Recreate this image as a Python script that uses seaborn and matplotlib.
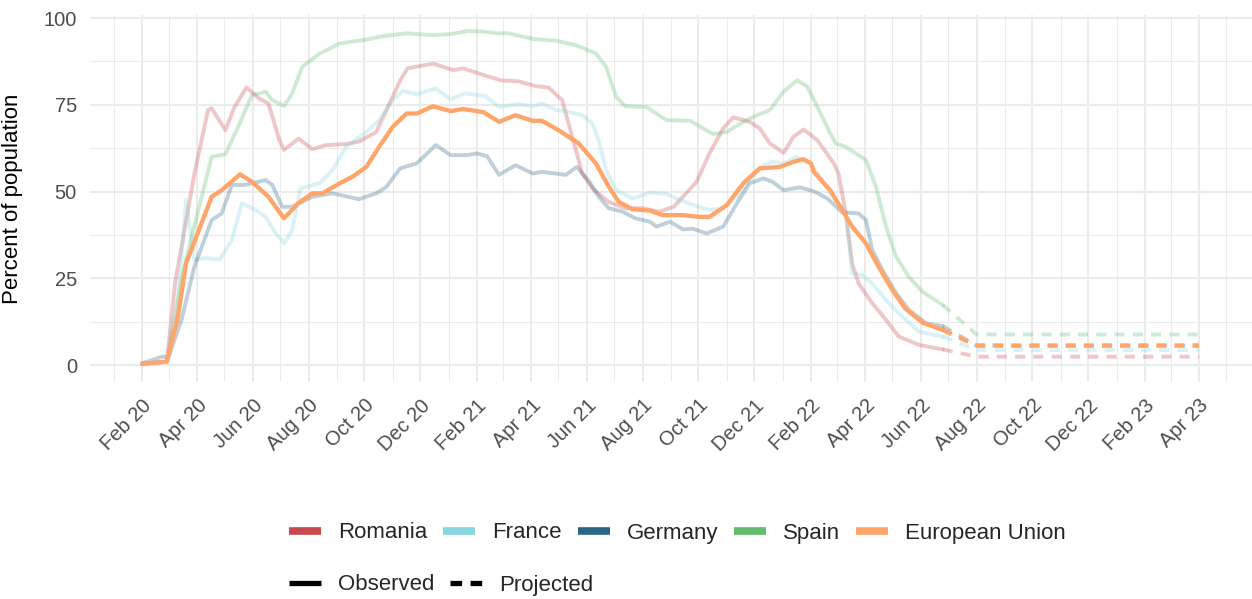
import pandas as pd
import numpy as np
import seaborn as sns
import matplotlib.pyplot as plt
import matplotlib.dates as mdates
from matplotlib.lines import Line2D

# Series (percent of population)
countries = ['Romania', 'France', 'Germany', 'Spain', 'European Union']
colors = ['#C9474F', '#86D6E0', '#2B6585', '#63BC6E', '#FFA56A']

romania_dates = ['2020-02-01', '2020-02-28', '2020-03-08', '2020-03-29', '2020-04-13', '2020-04-17',
                 '2020-05-02', '2020-05-12', '2020-05-25', '2020-06-08', '2020-06-18', '2020-06-30',
                 '2020-07-05', '2020-07-21', '2020-08-05', '2020-08-20', '2020-09-11', '2020-09-25',
                 '2020-10-14', '2020-10-25', '2020-11-09', '2020-11-17', '2020-12-15', '2021-01-06',
                 '2021-01-17', '2021-02-08', '2021-02-28', '2021-03-18', '2021-04-06', '2021-04-20',
                 '2021-05-05', '2021-05-12', '2021-05-20', '2021-05-27', '2021-06-07', '2021-06-25',
                 '2021-07-13', '2021-08-01', '2021-08-19', '2021-09-04', '2021-09-14', '2021-09-29',
                 '2021-10-13', '2021-10-28', '2021-11-08', '2021-11-26', '2021-12-07', '2021-12-18',
                 '2022-01-02', '2022-01-13', '2022-01-24', '2022-02-08', '2022-02-26', '2022-03-03',
                 '2022-03-11', '2022-03-18', '2022-03-25', '2022-04-09', '2022-04-24', '2022-05-08',
                 '2022-05-30', '2022-06-25']
romania_values = [0.3, 1.0, 23.6, 55.0, 73.5, 74.0,
                  67.7, 74.4, 80.0, 76.8, 75.4, 64.8,
                  62.0, 65.3, 62.2, 63.4, 63.7, 64.4,
                  67.2, 73.5, 82.0, 85.5, 86.9, 85.0,
                  85.5, 83.6, 82.0, 81.8, 80.4, 80.0,
                  76.4, 69.7, 62.0, 55.2, 50.9, 47.0,
                  45.2, 45.2, 44.2, 45.6, 48.5, 52.8,
                  61.0, 68.2, 71.4, 70.1, 68.2, 63.9,
                  61.2, 65.8, 67.9, 64.8, 58.1, 55.2,
                  43.7, 29.3, 23.5, 17.8, 13.0, 8.2,
                  5.8, 4.5]

france_dates = ['2020-02-01', '2020-02-28', '2020-03-10', '2020-03-20', '2020-03-29', '2020-04-10',
                '2020-04-26', '2020-05-09', '2020-05-20', '2020-06-04', '2020-06-15', '2020-06-26',
                '2020-07-05', '2020-07-14', '2020-07-23', '2020-08-13', '2020-08-27', '2020-09-11',
                '2020-10-03', '2020-10-17', '2020-11-01', '2020-11-12', '2020-11-27', '2020-12-18',
                '2021-01-03', '2021-01-19', '2021-02-10', '2021-02-25', '2021-03-18', '2021-04-03',
                '2021-04-13', '2021-04-28', '2021-05-12', '2021-05-27', '2021-06-07', '2021-06-14',
                '2021-06-22', '2021-07-03', '2021-07-21', '2021-08-09', '2021-08-27', '2021-09-11',
                '2021-09-29', '2021-10-13', '2021-10-28', '2021-11-12', '2021-11-26', '2021-12-11',
                '2021-12-21', '2022-01-02', '2022-01-16', '2022-02-01', '2022-02-22', '2022-03-11',
                '2022-03-18', '2022-03-29', '2022-04-09', '2022-04-24', '2022-05-08', '2022-05-30',
                '2022-06-25']
france_values = [0.5, 0.8, 15.0, 47.5, 30.3, 30.8,
                 30.5, 36.0, 46.6, 44.7, 42.7, 37.9,
                 35.1, 38.9, 50.9, 52.4, 56.2, 62.9,
                 67.2, 70.6, 76.4, 79.0, 78.1, 79.7,
                 76.6, 78.3, 77.5, 74.4, 75.2, 74.6,
                 75.4, 73.5, 73.0, 72.0, 69.7, 64.8,
                 56.2, 50.4, 48.0, 49.7, 49.3, 47.6,
                 45.8, 44.7, 45.2, 48.5, 53.3, 57.6,
                 58.6, 58.1, 60.0, 58.1, 49.5, 43.8,
                 26.4, 25.9, 23.5, 18.7, 14.9, 9.6,
                 8.2]

germany_dates = ['2020-02-01', '2020-02-23', '2020-03-01', '2020-03-15', '2020-03-29', '2020-04-17',
                 '2020-04-28', '2020-05-09', '2020-05-23', '2020-06-15', '2020-06-22', '2020-07-03',
                 '2020-07-14', '2020-08-05', '2020-08-27', '2020-09-25', '2020-10-14', '2020-10-25',
                 '2020-11-09', '2020-11-27', '2020-12-18', '2021-01-03', '2021-01-21', '2021-02-01',
                 '2021-02-12', '2021-02-25', '2021-03-15', '2021-04-03', '2021-04-13', '2021-05-09',
                 '2021-05-21', '2021-06-04', '2021-06-14', '2021-06-25', '2021-07-10', '2021-07-24',
                 '2021-08-09', '2021-08-16', '2021-08-31', '2021-09-14', '2021-09-25', '2021-10-10',
                 '2021-10-28', '2021-11-12', '2021-11-26', '2021-12-11', '2021-12-21', '2022-01-02',
                 '2022-01-20', '2022-02-04', '2022-02-19', '2022-03-07', '2022-03-25', '2022-04-02',
                 '2022-04-09', '2022-04-20', '2022-05-05', '2022-05-19', '2022-06-07', '2022-06-25']
germany_values = [0.5, 2.4, 2.4, 13.0, 28.3, 41.8,
                  43.7, 51.9, 51.9, 53.3, 52.0, 45.6,
                  45.6, 48.5, 49.5, 47.8, 49.5, 51.4,
                  56.7, 58.1, 63.4, 60.5, 60.5, 61.0,
                  60.2, 54.8, 57.6, 55.2, 55.7, 54.8,
                  57.1, 52.8, 48.5, 45.2, 44.2, 42.3,
                  41.3, 39.9, 41.3, 39.1, 39.3, 37.9,
                  39.9, 46.6, 52.4, 53.8, 52.8, 50.4,
                  51.2, 50.1, 48.0, 44.0, 43.7, 41.8,
                  33.1, 27.4, 20.7, 15.9, 12.0, 11.2]

spain_dates = ['2020-02-01', '2020-02-28', '2020-03-15', '2020-03-29', '2020-04-17', '2020-05-02',
               '2020-05-16', '2020-05-31', '2020-06-15', '2020-06-22', '2020-07-05', '2020-07-14',
               '2020-07-25', '2020-08-13', '2020-09-04', '2020-10-03', '2020-10-21', '2020-11-16',
               '2020-12-15', '2021-01-03', '2021-01-22', '2021-02-08', '2021-02-25', '2021-03-08',
               '2021-04-03', '2021-04-28', '2021-05-20', '2021-06-11', '2021-06-22', '2021-07-03',
               '2021-07-13', '2021-08-05', '2021-08-27', '2021-09-22', '2021-10-06', '2021-10-17',
               '2021-11-01', '2021-11-19', '2021-12-04', '2021-12-18', '2022-01-02', '2022-01-17',
               '2022-01-28', '2022-02-08', '2022-02-22', '2022-02-28', '2022-03-11', '2022-04-02',
               '2022-04-13', '2022-04-24', '2022-05-05', '2022-05-19', '2022-06-03', '2022-06-25']
spain_values = [0.3, 1.0, 25.0, 40.0, 60.0, 60.8,
                68.7, 77.8, 78.8, 76.4, 74.6, 78.3,
                86.0, 89.8, 92.7, 93.8, 94.8, 95.6,
                95.1, 95.4, 96.3, 96.1, 95.6, 95.6,
                94.0, 93.5, 92.2, 89.8, 86.0, 77.3,
                74.6, 74.4, 70.6, 70.4, 68.2, 66.6,
                67.2, 70.1, 72.0, 73.5, 78.8, 82.1,
                80.2, 74.4, 66.8, 63.9, 62.9, 59.1,
                51.4, 39.9, 31.2, 25.4, 21.1, 17.3]

eu_dates = ['2020-02-01', '2020-02-28', '2020-03-11', '2020-03-20', '2020-04-03', '2020-04-17',
            '2020-04-28', '2020-05-18', '2020-05-31', '2020-06-18', '2020-07-05', '2020-07-21',
            '2020-08-05', '2020-08-16', '2020-09-04', '2020-09-18', '2020-10-03', '2020-10-17',
            '2020-11-01', '2020-11-16', '2020-11-27', '2020-12-15', '2021-01-03', '2021-01-17',
            '2021-02-08', '2021-02-25', '2021-03-15', '2021-04-03', '2021-04-13', '2021-05-01',
            '2021-05-23', '2021-06-11', '2021-06-25', '2021-07-06', '2021-07-21', '2021-08-09',
            '2021-08-23', '2021-09-14', '2021-10-02', '2021-10-13', '2021-11-01', '2021-11-19',
            '2021-12-07', '2021-12-29', '2022-01-13', '2022-01-24', '2022-02-01', '2022-02-04',
            '2022-02-22', '2022-03-07', '2022-03-18', '2022-04-02', '2022-04-16', '2022-05-01',
            '2022-05-15', '2022-06-03', '2022-06-25']
eu_values = [0.3, 1.0, 13.9, 29.3, 38.9, 48.5,
             50.4, 55.0, 52.8, 48.5, 42.3, 46.7,
             49.5, 49.5, 52.4, 54.3, 57.1, 62.9,
             68.7, 72.5, 72.5, 74.6, 73.2, 73.8,
             72.9, 70.1, 72.0, 70.4, 70.4, 67.7,
             63.9, 58.1, 51.4, 47.0, 44.9, 44.5,
             43.2, 43.2, 42.7, 42.7, 46.1, 52.4,
             56.7, 57.1, 58.6, 59.3, 58.1, 55.7,
             50.4, 44.7, 39.9, 35.1, 28.3, 21.6,
             16.3, 12.2, 10.1]

# Projection (dashed) segments
proj_dates = ['2022-06-25', '2022-08-01', '2023-04-01']
romania_proj = [4.5, 2.4, 2.4]
france_proj = [8.2, 4.3, 4.3]
germany_proj = [11.2, 5.6, 5.6]
spain_proj = [17.3, 8.8, 8.8]
eu_proj = [10.1, 5.6, 5.6]

observed = {
    'Romania': (romania_dates, romania_values),
    'France': (france_dates, france_values),
    'Germany': (germany_dates, germany_values),
    'Spain': (spain_dates, spain_values),
    'European Union': (eu_dates, eu_values),
}
projected = {
    'Romania': romania_proj,
    'France': france_proj,
    'Germany': germany_proj,
    'Spain': spain_proj,
    'European Union': eu_proj,
}

frames = []
for name in countries:
    d, v = observed[name]
    frames.append(pd.DataFrame({'date': pd.to_datetime(d), 'value': v,
                                'country': name, 'phase': 'Observed'}))
    frames.append(pd.DataFrame({'date': pd.to_datetime(proj_dates), 'value': projected[name],
                                'country': name, 'phase': 'Projected'}))
data = pd.concat(frames, ignore_index=True)

sns.set_theme(style='white')
plt.rcParams['font.family'] = ['Liberation Sans', 'DejaVu Sans']

W, H = 1252, 599
fig = plt.figure(figsize=(W / 100, H / 100), dpi=100)
ax = fig.add_axes([90 / W, 1 - 382 / H, 1 - 90 / W, 367 / H])

for name, color in zip(countries, colors):
    is_eu = name == 'European Union'
    lw = 3.1 if is_eu else 2.8
    alpha = 1.0 if is_eu else 0.3
    dash = (0, (2.3, 1.9)) if is_eu else (0, (2.6, 2.1))
    sub = data[data['country'] == name]
    sns.lineplot(data=sub[sub['phase'] == 'Observed'], x='date', y='value', ax=ax,
                 color=color, alpha=alpha, linewidth=lw, solid_joinstyle='round',
                 legend=False)
    sns.lineplot(data=sub[sub['phase'] == 'Projected'], x='date', y='value', ax=ax,
                 color=color, alpha=alpha, linewidth=lw, linestyle=dash, legend=False)

# Axes styling (minimal theme look)
ax.set_xlim(pd.Timestamp('2019-12-06'), pd.Timestamp('2023-05-29'))
ax.set_ylim(-4.9, 100.9)
ax.set_yticks([0, 25, 50, 75, 100])
ax.set_yticks([12.5, 37.5, 62.5, 87.5], minor=True)
ax.xaxis.set_major_locator(mdates.MonthLocator(bymonth=[2, 4, 6, 8, 10, 12]))
ax.xaxis.set_minor_locator(mdates.MonthLocator(bymonth=[1, 3, 5, 7, 9, 11]))
ax.xaxis.set_major_formatter(mdates.DateFormatter('%b %y'))
ax.grid(which='major', color='#EBEBEB', linewidth=1.5)
ax.grid(which='minor', color='#EBEBEB', linewidth=0.75)
ax.set_axisbelow(True)
for s in ax.spines.values():
    s.set_visible(False)
ax.tick_params(axis='both', which='both', length=0)
ax.tick_params(axis='x', pad=10, labelsize=14.5, labelcolor='#4D4D4D')
ax.tick_params(axis='y', pad=9.4, labelsize=14.5, labelcolor='#4D4D4D')
for lab in ax.get_xticklabels():
    lab.set_rotation(45)
    lab.set_ha('right')
    lab.set_va('top')
    lab.set_rotation_mode('anchor')
ax.set_xlabel('')
ax.set_ylabel('Percent of population', fontsize=16, color='black')
ax.yaxis.set_label_coords(-0.0577, 0.5)

# Legends
color_handles = [Line2D([], [], color=c, linewidth=5.5, solid_capstyle='butt') for c in colors]
fig.legend(color_handles, countries, loc='center left', bbox_to_anchor=(289 / W, 1 - 533 / H),
           ncol=5, frameon=False, fontsize=16, handlelength=1.45, handletextpad=0.75,
           columnspacing=0.72, borderpad=0, borderaxespad=0)

type_handles = [Line2D([], [], color='black', linewidth=3.8, solid_capstyle='butt'),
                Line2D([], [], color='black', linewidth=3.8, linestyle=(0, (2.2, 1.6)),
                       dash_capstyle='butt')]
fig.legend(type_handles, ['Observed', 'Projected'], loc='center left',
           bbox_to_anchor=(289 / W, 1 - 585 / H), ncol=2, frameon=False, fontsize=16,
           handlelength=1.45, handletextpad=0.75, columnspacing=0.72, borderpad=0, borderaxespad=0)

fig.savefig('out.png', dpi=100)
